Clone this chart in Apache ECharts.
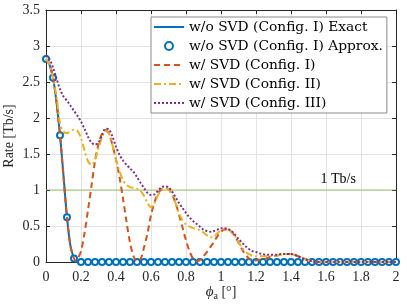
<!DOCTYPE html>
<html>
<head>
<meta charset="utf-8">
<script src="https://cdn.jsdelivr.net/npm/echarts@6/dist/echarts.min.js"></script>
<style>
html,body{margin:0;padding:0;background:#fff;}
#c{width:407px;height:305px;}
</style>
</head>
<body>
<div id="c"></div>
<script>
// ---- data ----
const xTicks = ['0','0.2','0.4','0.6','0.8','1','1.2','1.4','1.6','1.8','2'];
const yTicks = ['0','0.5','1','1.5','2','2.5','3','3.5'];
const seriesNames = ['w/o SVD (Config. I) Exact','w/o SVD (Config. I) Approx.','w/ SVD (Config. I)','w/ SVD (Config. II)','w/ SVD (Config. III)'];

const exactCfg1 = [[0,2.82],[0.02,2.74],[0.04,2.56],[0.06,2.22],[0.08,1.76],[0.10,1.20],[0.12,0.62],[0.14,0.22],[0.16,0.05],[0.17,0.01],[0.18,0],[0.2,0],[2,0]];

const approxX = [0,0.04,0.08,0.12,0.16,0.2,0.24,0.28,0.32,0.36,0.4,0.44,0.48,0.52,0.56,0.6,0.64,0.68,0.72,0.76,0.8,0.84,0.88,0.92,0.96,1,1.04,1.08,1.12,1.16,1.2,1.24,1.28,1.32,1.36,1.4,1.44,1.48,1.52,1.56,1.6,1.64,1.68,1.72,1.76,1.8,1.84,1.88,1.92,1.96,2];
const approxY = [2.82,2.56,1.76,0.62,0.05,0,0,0,0,0,0,0,0,0,0,0,0,0,0,0,0,0,0,0,0,0,0,0,0,0,0,0,0,0,0,0,0,0,0,0,0,0,0,0,0,0,0,0,0,0,0];

const svdCfg1 = [[0,2.82],[0.02,2.74],[0.04,2.56],[0.06,2.22],[0.08,1.76],[0.10,1.18],[0.12,0.62],[0.14,0.22],[0.16,0.05],[0.17,0.02],[0.18,0.04],[0.20,0.15],[0.22,0.40],[0.24,0.72],[0.26,1.06],[0.28,1.40],[0.30,1.64],[0.32,1.78],[0.34,1.83],[0.36,1.78],[0.38,1.62],[0.40,1.42],[0.42,1.18],[0.44,0.88],[0.46,0.56],[0.48,0.27],[0.50,0.08],[0.52,0.01],[0.54,0.04],[0.56,0.20],[0.58,0.40],[0.60,0.65],[0.62,0.83],[0.64,0.95],[0.66,1.01],[0.68,1.03],[0.70,1.01],[0.72,0.94],[0.74,0.82],[0.76,0.66],[0.78,0.48],[0.80,0.30],[0.82,0.15],[0.84,0.05],[0.86,0.01],[0.88,0.03],[0.90,0.08],[0.92,0.14],[0.94,0.21],[0.96,0.28],[0.98,0.36],[1.00,0.42],[1.02,0.45],[1.04,0.45],[1.06,0.42],[1.08,0.36],[1.10,0.27],[1.12,0.18],[1.14,0.10],[1.16,0.05],[1.18,0.02],[1.20,0.02],[1.22,0.03],[1.24,0.04],[1.26,0.05],[1.28,0.07],[1.30,0.08],[1.32,0.09],[1.34,0.10],[1.36,0.11],[1.38,0.11],[1.40,0.11],[1.42,0.10],[1.44,0.08],[1.46,0.06],[1.48,0.04],[1.50,0.02],[1.52,0.01],[1.54,0],[1.6,0],[2,0]];

const svdCfg2 = [[0,2.82],[0.02,2.74],[0.04,2.56],[0.06,2.30],[0.08,1.93],[0.10,1.81],[0.12,1.79],[0.14,1.81],[0.16,1.84],[0.18,1.82],[0.20,1.72],[0.22,1.55],[0.24,1.40],[0.26,1.35],[0.28,1.42],[0.30,1.58],[0.32,1.74],[0.34,1.82],[0.36,1.78],[0.38,1.62],[0.40,1.42],[0.42,1.26],[0.44,1.14],[0.46,1.07],[0.48,1.04],[0.50,1.03],[0.52,1.02],[0.54,0.99],[0.56,0.92],[0.58,0.82],[0.60,0.76],[0.62,0.82],[0.64,0.93],[0.66,1.00],[0.68,1.02],[0.70,1.01],[0.72,0.94],[0.74,0.82],[0.76,0.68],[0.78,0.58],[0.80,0.52],[0.82,0.49],[0.84,0.47],[0.86,0.46],[0.88,0.44],[0.90,0.41],[0.92,0.37],[0.94,0.34],[0.96,0.35],[0.98,0.40],[1.00,0.44],[1.02,0.46],[1.04,0.45],[1.06,0.42],[1.08,0.36],[1.10,0.28],[1.12,0.20],[1.14,0.14],[1.16,0.11],[1.18,0.09],[1.20,0.08],[1.22,0.08],[1.24,0.08],[1.26,0.08],[1.28,0.08],[1.30,0.09],[1.32,0.09],[1.34,0.10],[1.36,0.11],[1.38,0.11],[1.40,0.11],[1.42,0.10],[1.44,0.08],[1.46,0.06],[1.48,0.04],[1.50,0.02],[1.52,0.01],[1.54,0],[1.6,0],[2,0]];

const svdCfg3 = [[0,2.87],[0.02,2.82],[0.04,2.70],[0.06,2.55],[0.08,2.40],[0.10,2.30],[0.12,2.24],[0.14,2.17],[0.16,2.10],[0.18,2.03],[0.20,1.95],[0.22,1.85],[0.24,1.74],[0.26,1.66],[0.28,1.63],[0.30,1.66],[0.32,1.76],[0.34,1.85],[0.36,1.84],[0.38,1.74],[0.40,1.60],[0.42,1.49],[0.44,1.41],[0.46,1.35],[0.48,1.30],[0.50,1.25],[0.52,1.18],[0.54,1.10],[0.56,1.03],[0.58,0.96],[0.60,0.93],[0.62,0.94],[0.64,0.99],[0.66,1.04],[0.68,1.05],[0.70,1.04],[0.72,0.98],[0.74,0.90],[0.76,0.82],[0.78,0.75],[0.80,0.68],[0.82,0.62],[0.84,0.57],[0.86,0.53],[0.88,0.49],[0.90,0.45],[0.92,0.43],[0.94,0.42],[0.96,0.43],[0.98,0.45],[1.00,0.47],[1.02,0.47],[1.04,0.46],[1.06,0.43],[1.08,0.38],[1.10,0.32],[1.12,0.27],[1.14,0.22],[1.16,0.18],[1.18,0.15],[1.20,0.14],[1.22,0.12],[1.24,0.11],[1.26,0.10],[1.28,0.10],[1.30,0.10],[1.32,0.10],[1.34,0.11],[1.36,0.11],[1.38,0.11],[1.40,0.11],[1.42,0.10],[1.44,0.08],[1.46,0.06],[1.48,0.04],[1.50,0.02],[1.52,0.01],[1.54,0],[1.6,0],[2,0]];

const threshold = [[0,1],[2,1]];
const thresholdLabel = '1 Tb/s';
const thresholdLabelAt = [1.67, 1.15];

// ---- chart ----
const NUMFONT = 'Liberation Serif';
const TXTFONT = 'DejaVu Serif';
const AX = '#262626';
const chart = echarts.init(document.getElementById('c'), null, {renderer:'canvas'});

const commonX = {
  type:'value', min:0, max:2, interval:0.2,
  axisLine:{show:true, onZero:false, lineStyle:{color:AX, width:1}},
  axisTick:{show:true, inside:true, length:4, lineStyle:{color:AX}},
  splitLine:{show:false}
};
const commonY = {
  type:'value', min:0, max:3.5, interval:0.5,
  axisLine:{show:true, onZero:false, lineStyle:{color:AX, width:1}},
  axisTick:{show:true, inside:true, length:4, lineStyle:{color:AX}},
  splitLine:{show:false}
};

const hideSym = {opacity:0};
const option = {
  animation:false,
  backgroundColor:'#fff',
  grid:{left:46, right:11, top:10, bottom:43, containLabel:false, outerBoundsMode:'none'},
  legend:{
    data: [
      {name:seriesNames[0], itemStyle:hideSym},
      {name:seriesNames[1]},
      {name:seriesNames[2], itemStyle:hideSym},
      {name:seriesNames[3], itemStyle:hideSym},
      {name:seriesNames[4], itemStyle:hideSym}
    ],
    orient:'vertical', left:151, top:17,
    itemWidth:30, itemHeight:10, itemGap:5,
    padding:[3,4,3,2],
    backgroundColor:'#fff', borderColor:'#8a8a8a', borderWidth:1,
    textStyle:{fontFamily:TXTFONT, fontSize:13.8, lineHeight:14, color:'#000'},
    selectedMode:false
  },
  xAxis:[
    Object.assign({}, commonX, {
      position:'bottom',
      splitLine:{show:true, lineStyle:{color:'#e3e3e3', width:1}},
      axisLabel:{show:true, margin:8, color:AX, fontFamily:NUMFONT, fontSize:14,
        formatter:(v)=>xTicks[Math.round(v/0.2)]},
      name:'{i|\u03d5}{s|a} [\u00b0]', nameLocation:'middle', nameGap:21, nameMoveOverlap:false,
      nameTextStyle:{color:AX, fontFamily:NUMFONT, fontSize:14,
        rich:{i:{fontFamily:NUMFONT, fontStyle:'italic', fontSize:15, color:AX},
              s:{fontFamily:NUMFONT, fontSize:10, color:AX, verticalAlign:'bottom', padding:[8,0,0,0]}}}
    }),
    Object.assign({}, commonX, {position:'top', axisLabel:{show:false}})
  ],
  yAxis:[
    Object.assign({}, commonY, {
      position:'left',
      splitLine:{show:true, lineStyle:{color:'#e3e3e3', width:1}},
      axisLabel:{show:true, margin:6, color:AX, fontFamily:NUMFONT, fontSize:14,
        formatter:(v)=>yTicks[Math.round(v/0.5)]},
      name:'Rate [Tb/s]', nameLocation:'middle', nameGap:30, nameMoveOverlap:false,
      nameTextStyle:{color:AX, fontFamily:NUMFONT, fontSize:14}
    }),
    Object.assign({}, commonY, {position:'right', axisLabel:{show:false}})
  ],
  series:[
    {
      name:'thr', type:'line', data:threshold, symbol:'none', silent:true,
      lineStyle:{color:'#77AC30', width:1.5, opacity:0.45}, z:1,
      markPoint:{
        symbol:'circle', symbolSize:1, itemStyle:{color:'rgba(0,0,0,0)'},
        label:{show:true, position:'inside', formatter:thresholdLabel, color:'#000', fontFamily:NUMFONT, fontSize:14},
        data:[{coord:thresholdLabelAt}]
      }
    },
    {
      name:seriesNames[0], type:'line', data:exactCfg1, symbol:'none', smooth:0.3,
      lineStyle:{color:'#0072BD', width:2}, itemStyle:{color:'#0072BD'}, z:2
    },
    {
      name:seriesNames[1], type:'line', data:approxX.map((x,i)=>[x, approxY[i]]),
      symbol:'emptyCircle', symbolSize:6, showSymbol:true,
      lineStyle:{opacity:0, width:0}, itemStyle:{color:'#0072BD', borderColor:'#0072BD', borderWidth:1.2}, z:3
    },
    {
      name:seriesNames[2], type:'line', data:svdCfg1, symbol:'none', smooth:0.3,
      lineStyle:{color:'#D95319', width:2, type:[6,4]}, itemStyle:{color:'#D95319'}, z:4
    },
    {
      name:seriesNames[3], type:'line', data:svdCfg2, symbol:'none', smooth:0.3,
      lineStyle:{color:'#EDB120', width:2, type:[7,3,2,3]}, itemStyle:{color:'#EDB120'}, z:5
    },
    {
      name:seriesNames[4], type:'line', data:svdCfg3, symbol:'none', smooth:0.3,
      lineStyle:{color:'#7E2F8E', width:2, type:[2,2]}, itemStyle:{color:'#7E2F8E'}, z:6
    }
  ]
};
chart.setOption(option);
</script>
</body>
</html>
